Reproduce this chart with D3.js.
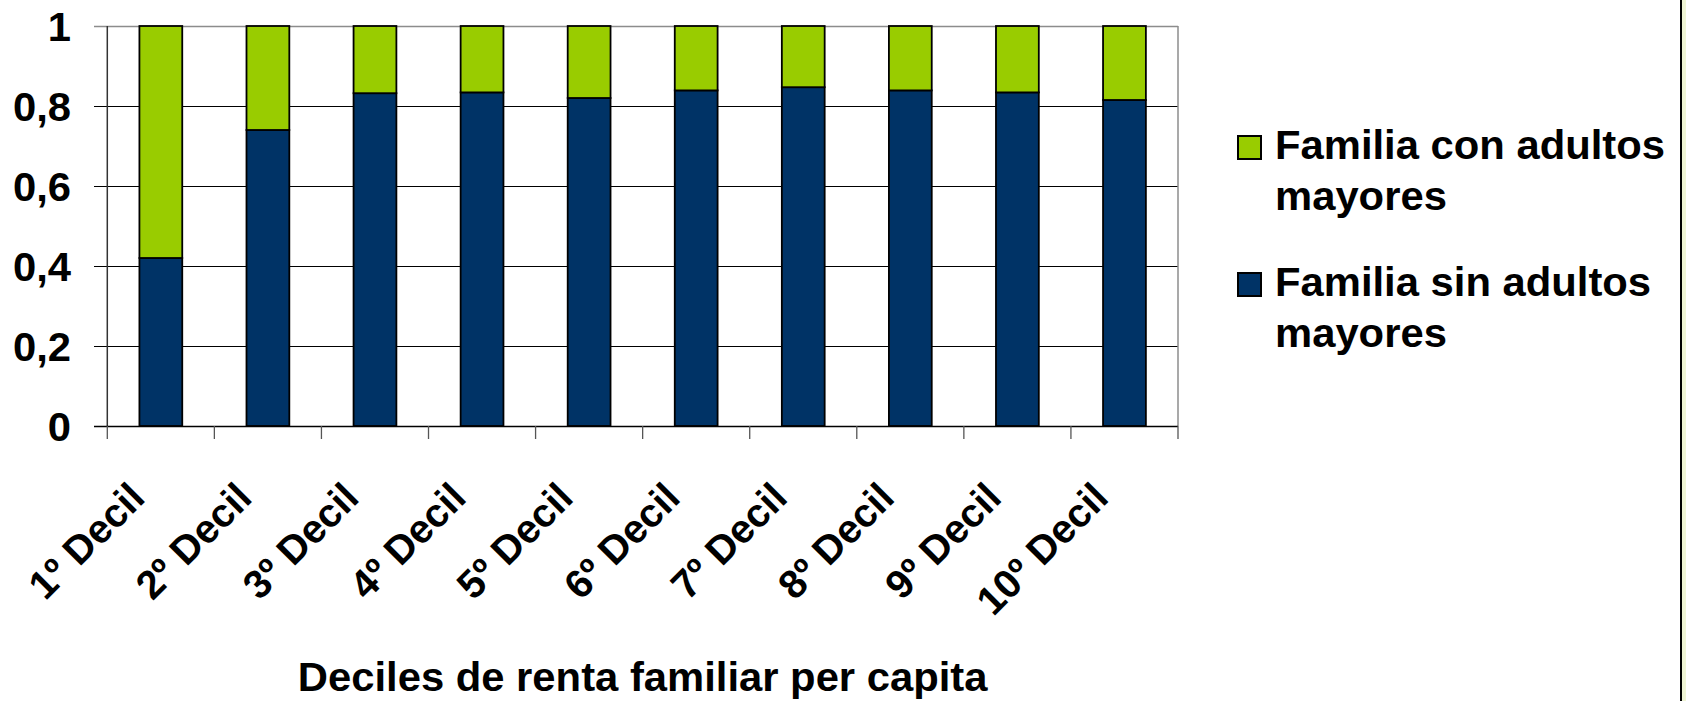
<!DOCTYPE html>
<html><head><meta charset="utf-8">
<script src="https://cdn.jsdelivr.net/npm/d3@7"></script>
<style>html,body{margin:0;padding:0;background:#fff;overflow:hidden}</style>
</head><body>
<svg id="c" width="1686" height="701"></svg>
<script>
const categories = ["1º Decil","2º Decil","3º Decil","4º Decil","5º Decil","6º Decil","7º Decil","8º Decil","9º Decil","10º Decil"];
const sinAdultos = [0.42,0.74,0.832,0.834,0.82,0.839,0.847,0.839,0.834,0.815];
const conAdultos = sinAdultos.map(v => +(1 - v).toFixed(3));
const seriesNames = ["Familia con adultos mayores","Familia sin adultos mayores"];
const yTicks = [0,0.2,0.4,0.6,0.8,1];
const yTickLabels = ["0","0,2","0,4","0,6","0,8","1"];
const xTitle = "Deciles de renta familiar per capita";

const svg = d3.select("#c");
const W=1686,H=701;
const m={left:107.3,right:1178,top:26,bottom:426};
const FONT="'Liberation Sans', Arial, sans-serif";
const FS=40, SX=1.045;

const x=d3.scaleBand().domain(categories).range([m.left,m.right]).paddingInner(0.6).paddingOuter(0.3);
const y=d3.scaleLinear().domain([0,1]).range([m.bottom,m.top]);

// right edge decoration
svg.append("rect").attr("x",1682).attr("y",0).attr("width",4).attr("height",H).attr("fill","#eef4d4");
svg.append("line").attr("x1",1681).attr("x2",1681).attr("y1",0).attr("y2",H).attr("stroke","#000").attr("stroke-width",2);

// gridlines
svg.append("g").selectAll("line").data(yTicks.filter(t=>t>0&&t<1)).join("line")
  .attr("x1",94).attr("x2",m.right).attr("y1",d=>Math.round(y(d))+0.5).attr("y2",d=>Math.round(y(d))+0.5)
  .attr("stroke","#000").attr("stroke-width",1);
// top and right border
svg.append("line").attr("x1",94).attr("x2",m.right).attr("y1",y(1)+0.5).attr("y2",y(1)+0.5).attr("stroke","#8c8c8c").attr("stroke-width",1.5);
svg.append("line").attr("x1",m.right).attr("x2",m.right).attr("y1",m.top).attr("y2",m.bottom).attr("stroke","#8c8c8c").attr("stroke-width",1.5);

// bars
const stack = d3.stack().keys(["sin","con"])(categories.map((c,i)=>({cat:c,sin:sinAdultos[i],con:conAdultos[i]})));
const colors={sin:"#003366",con:"#99cc00"};
svg.append("g").selectAll("g").data(stack).join("g").attr("fill",d=>colors[d.key])
  .selectAll("rect").data(d=>d).join("rect")
  .attr("x",d=>x(d.data.cat)).attr("width",x.bandwidth())
  .attr("y",d=>y(d[1])).attr("height",d=>y(d[0])-y(d[1]))
  .attr("stroke","#000").attr("stroke-width",1.8);

// axes
svg.append("line").attr("x1",m.left).attr("x2",m.left).attr("y1",m.top).attr("y2",m.bottom).attr("stroke","#333").attr("stroke-width",1.5);
svg.append("line").attr("x1",94).attr("x2",m.right).attr("y1",m.bottom+0.5).attr("y2",m.bottom+0.5).attr("stroke","#000").attr("stroke-width",1.5);
const bounds = categories.map(c=>x(c)-x.step()*x.paddingInner()/2).concat([m.right]);
bounds[0]=m.left;
svg.append("g").selectAll("line").data(bounds).join("line")
  .attr("x1",d=>d).attr("x2",d=>d).attr("y1",m.bottom).attr("y2",439)
  .attr("stroke","#555").attr("stroke-width",1.3);

// y labels
svg.append("g").selectAll("text").data(yTicks).join("text")
  .attr("transform",d=>`translate(71,${y(d)+14.5}) scale(${SX},1)`)
  .attr("text-anchor","end").attr("font-family",FONT).attr("font-weight","bold").attr("font-size",FS)
  .text((d,i)=>yTickLabels[i]);

// x labels
svg.append("g").selectAll("text").data(categories).join("text")
  .attr("transform",d=>`translate(${x(d)+x.bandwidth()/2-14},500) rotate(-45)`)
  .attr("text-anchor","end").attr("font-family",FONT).attr("font-weight","bold").attr("font-size",FS)
  .text(d=>d);

// x title
svg.append("text").attr("transform",`translate(${(m.left+m.right)/2},691) scale(${SX},1)`)
  .attr("text-anchor","middle").attr("font-family",FONT).attr("font-weight","bold").attr("font-size",FS)
  .text(xTitle);

// legend
const legend=[{name:seriesNames[0],key:"con",y:135},{name:seriesNames[1],key:"sin",y:272}];
const lg=svg.append("g").selectAll("g").data(legend).join("g");
lg.append("rect").attr("x",1238).attr("y",d=>d.y+1).attr("width",23).attr("height",23)
  .attr("fill",d=>colors[d.key]).attr("stroke","#000").attr("stroke-width",2);
lg.each(function(d){
  const words=d.name.split(" ");
  const l1=words.slice(0,3).join(" "), l2=words.slice(3).join(" ");
  const g=d3.select(this);
  [l1,l2].forEach((t,i)=>g.append("text")
    .attr("transform",`translate(1275,${d.y+24+i*51}) scale(${SX},1)`)
    .attr("font-family",FONT).attr("font-weight","bold").attr("font-size",FS).text(t));
});
</script>
</body></html>
